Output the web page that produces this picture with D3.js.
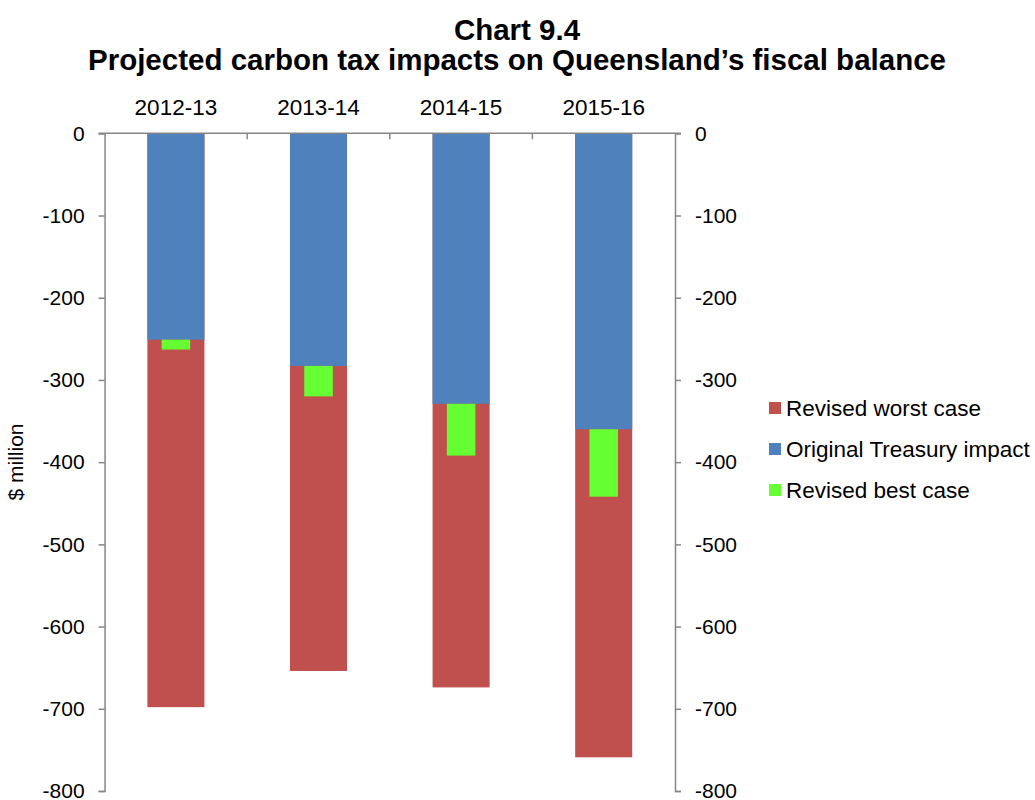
<!DOCTYPE html>
<html>
<head>
<meta charset="utf-8">
<script src="https://cdn.jsdelivr.net/npm/d3@7"></script>
<style>
  html, body { margin: 0; padding: 0; background: #fff; }
  svg { display: block; font-family: "Liberation Sans", Arial, sans-serif; }
</style>
</head>
<body>
<svg id="chart" width="1035" height="800"></svg>
<script>
const categories = ["2012-13", "2013-14", "2014-15", "2015-16"];
const originalTreasury = [-251, -283, -329, -360];
const revisedWorst = [-698, -654, -674, -759];
const revisedBest = [-263, -320, -392, -442];
const yTicks = [0, -100, -200, -300, -400, -500, -600, -700, -800];
const legendLabels = ["Revised worst case", "Original Treasury impact", "Revised best case"];
const colors = ["#C0504D", "#4F81BD", "#66FF33"];

const svg = d3.select("#chart");
const axisColor = "#868686";

const x = d3.scaleBand().domain(categories).range([104.6, 675]).paddingInner(0).paddingOuter(0);
const y = d3.scaleLinear().domain([-800, 0]).range([791, 133.3]);

const barW = x.bandwidth() * 0.4;
const greenW = barW * 0.5;

// Title
svg.append("text").attr("x", 517).attr("y", 40).attr("text-anchor", "middle")
  .attr("font-size", 29.5).attr("font-weight", "bold").text("Chart 9.4");
svg.append("text").attr("x", 517).attr("y", 70).attr("text-anchor", "middle")
  .attr("font-size", 29.5).attr("font-weight", "bold")
  .text("Projected carbon tax impacts on Queensland\u2019s fiscal balance");

// Bars: worst (red) behind
const g = svg.append("g");
g.selectAll("rect.worst").data(categories).enter().append("rect")
  .attr("class", "worst")
  .attr("x", d => x(d) + (x.bandwidth() - barW) / 2)
  .attr("width", barW)
  .attr("y", y(0))
  .attr("height", (d, i) => y(revisedWorst[i]) - y(0))
  .attr("fill", colors[0]);

g.selectAll("rect.orig").data(categories).enter().append("rect")
  .attr("class", "orig")
  .attr("x", d => x(d) + (x.bandwidth() - barW) / 2)
  .attr("width", barW)
  .attr("y", y(0))
  .attr("height", (d, i) => y(originalTreasury[i]) - y(0))
  .attr("fill", colors[1]);

g.selectAll("rect.best").data(categories).enter().append("rect")
  .attr("class", "best")
  .attr("x", d => x(d) + (x.bandwidth() - greenW) / 2)
  .attr("width", greenW)
  .attr("y", (d, i) => y(originalTreasury[i]))
  .attr("height", (d, i) => y(revisedBest[i]) - y(originalTreasury[i]))
  .attr("fill", colors[2]);

const fmt = d => String(d);
// Left axis
const leftAxis = svg.append("g").attr("transform", "translate(104.6,0)")
  .call(d3.axisLeft(y).tickValues(yTicks).tickSize(6).tickSizeOuter(6).tickPadding(14).tickFormat(fmt));
// Right axis
const rightAxis = svg.append("g").attr("transform", "translate(675,0)")
  .call(d3.axisRight(y).tickValues(yTicks).tickSize(6).tickSizeOuter(6).tickPadding(14).tickFormat(fmt));

[leftAxis, rightAxis].forEach(a => {
  a.select(".domain").attr("stroke", axisColor).attr("stroke-width", 1.5);
  a.selectAll(".tick line").attr("stroke", axisColor).attr("stroke-width", 1.5);
  a.selectAll(".tick text").attr("font-size", 21).attr("fill", "#000")
    .attr("font-family", "'Liberation Sans', Arial, sans-serif");
});

// Top category axis (at zero)
const boundaries = categories.slice(1).map(c => x(c));
svg.append("line").attr("x1", 98.6).attr("x2", 681).attr("y1", y(0)).attr("y2", y(0))
  .attr("stroke", axisColor).attr("stroke-width", 1.5);
svg.selectAll("line.ctick").data(boundaries).enter().append("line")
  .attr("class", "ctick")
  .attr("x1", d => d).attr("x2", d => d)
  .attr("y1", y(0)).attr("y2", y(0) + 6)
  .attr("stroke", axisColor).attr("stroke-width", 1.5);
svg.selectAll("text.cat").data(categories).enter().append("text")
  .attr("class", "cat")
  .attr("x", d => x(d) + x.bandwidth() / 2)
  .attr("y", 115)
  .attr("text-anchor", "middle")
  .attr("font-size", 22.5)
  .text(d => d);

// Y axis title
svg.append("text").attr("transform", "translate(23,462) rotate(-90)")
  .attr("text-anchor", "middle").attr("font-size", 21).text("$ million");

// Legend
const leg = svg.append("g");
legendLabels.forEach((lab, i) => {
  const cy = 408 + i * 41;
  leg.append("rect").attr("x", 769).attr("y", cy - 6).attr("width", 12).attr("height", 12).attr("fill", colors[i]);
  leg.append("text").attr("x", 786).attr("y", cy + 8).attr("font-size", 22.5).text(lab);
});
</script>
</body>
</html>
